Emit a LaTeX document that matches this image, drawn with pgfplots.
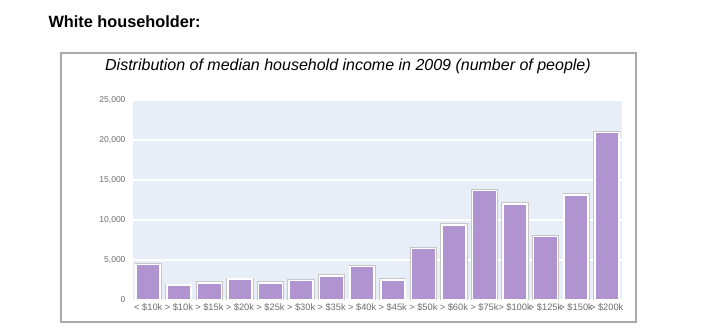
\documentclass[border=0pt]{standalone}
\usepackage{fontspec}
\setmainfont{Liberation Sans}
\usepackage{pgfplots}
\pgfplotsset{compat=1.18}
\definecolor{barfill}{RGB}{175,148,208}
\definecolor{plotbg}{RGB}{232,238,247}
\definecolor{ticktext}{RGB}{110,110,110}
\definecolor{boxgray}{RGB}{170,170,170}
\pgfplotstableread{
x y
0 4450
1 1840
2 2140
3 2590
4 2140
5 2460
6 3010
7 4170
8 2510
9 6420
10 9375
11 13710
12 12000
13 7920
14 13125
15 20920
}\incomedata
\begin{document}
\begin{tikzpicture}[x=1pt,y=1pt]
\path[use as bounding box, fill=white] (0,0) rectangle (709,334);
\draw[boxgray, line width=2pt] (61,12) rectangle (636,281);
\node[anchor=west, font=\fontsize{16.3}{18}\selectfont\bfseries] at (45,312) {White householder:};
\node[font=\fontsize{16}{18}\selectfont\itshape] at (348,268) {Distribution of median household income in 2009 (number of people)};
\begin{axis}[
  at={(133pt,34pt)}, anchor=south west,
  scale only axis, width=489pt, height=200pt,
  xmin=-0.5, xmax=15.5, ymin=0, ymax=25000,
  axis line style={draw=none},
  axis background/.style={fill=plotbg},
  ytick={0,5000,10000,15000,20000,25000},
  xtick=data,
  xticklabels={< \$10k,> \$10k,> \$15k,> \$20k,> \$25k,> \$30k,> \$35k,> \$40k,> \$45k,> \$50k,> \$60k,> \$75k,> \$100k,> \$125k,> \$150k,> \$200k},
  ymajorgrids, grid style={white, line width=1.6pt},
  major tick length=0pt,
  tick label style={font=\fontsize{8.5}{10}\selectfont, text=ticktext},
  xticklabel style={font=\fontsize{9.3}{10}\selectfont, yshift=0pt, inner xsep=0pt},
  /pgf/number format/assume math mode=true,
  /pgf/number format/1000 sep={,},
  scaled y ticks=false,
  yticklabel style={xshift=-4pt},
]
\addplot[ybar, bar width=24pt, fill=none, draw=black!22, line width=3.2pt] table[x=x,y=y] {\incomedata};
\addplot[ybar, bar width=24pt, fill=barfill, draw=white, line width=1.6pt] table[x=x,y=y] {\incomedata};
\end{axis}
\end{tikzpicture}
\end{document}
